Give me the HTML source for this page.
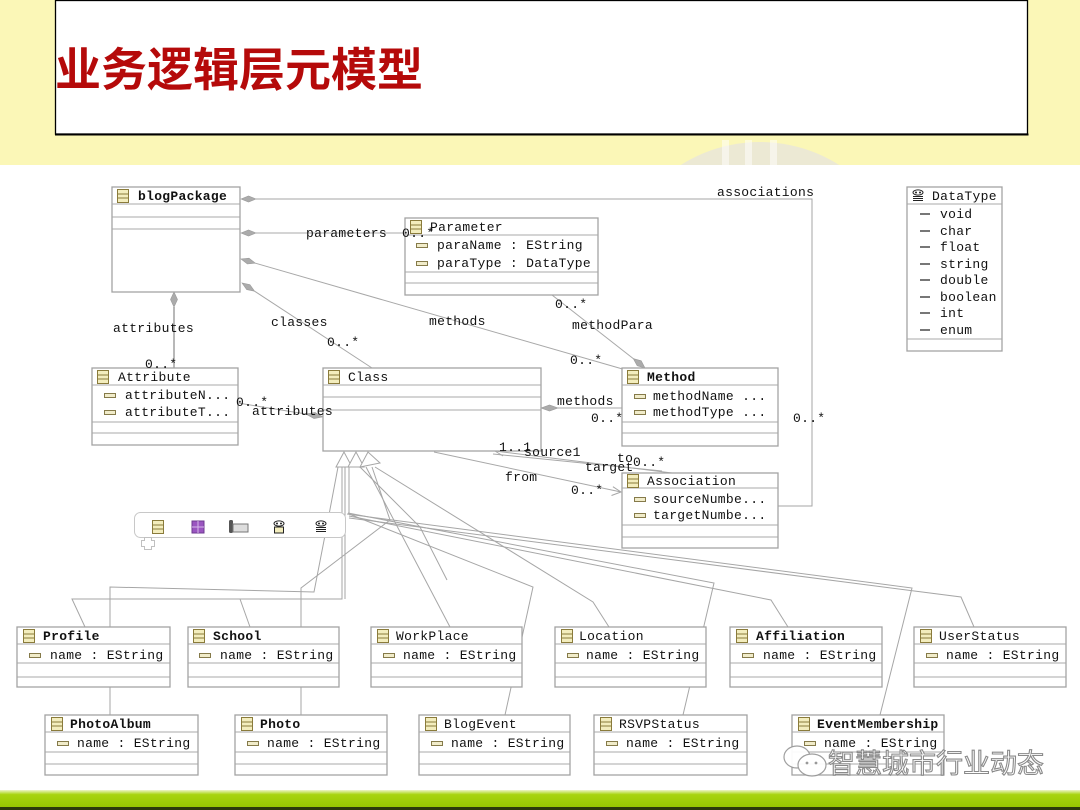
<!DOCTYPE html>
<html><head><meta charset="utf-8">
<style>
html,body{margin:0;padding:0;width:1080px;height:810px;overflow:hidden;background:#fff}
svg{display:block}
.t{font-family:"Liberation Mono",monospace;font-size:13px;letter-spacing:0.3px;fill:#111}
.tb{font-family:"Liberation Mono",monospace;font-size:13px;letter-spacing:0.3px;fill:#111;font-weight:bold}
.b{fill:#fff;stroke:#a3a3a3;stroke-width:1.3}
.s{stroke:#a8a8a8;stroke-width:1}
.l{stroke:#a6a6a6;stroke-width:1;fill:none}
.d{fill:#ababab;stroke:#9a9a9a;stroke-width:0.6}
</style></head><body>
<svg width="1080" height="810" viewBox="0 0 1080 810" xmlns="http://www.w3.org/2000/svg">
<defs>
<g id="ci"><rect x="0.5" y="0.5" width="11" height="13" fill="#f3edbd" stroke="#8a7b3b"/><line x1="1" y1="5" x2="11" y2="5" stroke="#8a7b3b"/><line x1="1" y1="9" x2="11" y2="9" stroke="#8a7b3b"/></g>
<g id="ai"><rect x="0.5" y="0.5" width="11" height="4" fill="#f1ecca" stroke="#857a4a"/></g>
<g id="dt"><ellipse cx="6" cy="3.5" rx="5" ry="2.6" fill="#fff" stroke="#222" stroke-width="1"/><circle cx="4" cy="3.5" r="1" fill="#222"/><circle cx="8" cy="3.5" r="1" fill="#222"/><line x1="1" y1="7.5" x2="11" y2="7.5" stroke="#222"/><line x1="1" y1="9.5" x2="11" y2="9.5" stroke="#222"/><line x1="1" y1="11.5" x2="11" y2="11.5" stroke="#222"/></g>
<linearGradient id="gb" x1="0" y1="0" x2="0" y2="1">
<stop offset="0" stop-color="#eef5c8"/><stop offset="0.25" stop-color="#a8d410"/><stop offset="1" stop-color="#96c600"/>
</linearGradient>
<clipPath id="yc"><rect x="0" y="0" width="1080" height="165"/></clipPath>
</defs>

<!-- header background -->
<rect x="0" y="0" width="1080" height="165" fill="#fbf7b7"/>
<g clip-path="url(#yc)">
<circle cx="760" cy="290" r="148" fill="#ece9d4"/>
<rect x="722" y="140" width="7" height="30" fill="#fff" opacity="0.5"/>
<rect x="745" y="140" width="7" height="30" fill="#fff" opacity="0.5"/>
<rect x="770" y="140" width="7" height="30" fill="#fff" opacity="0.5"/>
</g>
<rect x="55.5" y="0.5" width="972" height="133.5" fill="#fff" stroke="#000" stroke-width="1.3"/>
<line x1="55" y1="134.5" x2="1028.5" y2="134.5" stroke="#000" stroke-width="2"/>
<text x="55" y="86" style="font-family:'Liberation Sans','Noto Sans CJK SC',sans-serif;font-size:46px;font-weight:bold;fill:#b50a0a">业务逻辑层元模型</text>

<!-- ===== connectors ===== -->
<polyline class="l" points="256,199 812,199 812,506 778,506"/>
<polygon class="d" points="241,199 248.5,196 256,199 248.5,202"/>
<line class="s" x1="256" y1="233" x2="405" y2="233"/>
<polygon class="d" points="241,233 248.5,230 256,233 248.5,236"/>
<line class="s" x1="255.4" y1="263.2" x2="626" y2="370"/>
<polygon class="d" points="241,259 247.4,264 255.4,263.2 249,258.2"/>
<line class="s" x1="254.6" y1="291.2" x2="372" y2="368"/>
<polygon class="d" points="242,283 246.7,289.6 254.6,291.2 249.9,284.6"/>
<line class="l" x1="174" y1="307" x2="174" y2="368" style="stroke-width:1.6"/>
<polygon class="d" points="174,292 170.5,299.5 174,307 177.5,299.5"/>
<line class="s" x1="552" y1="295" x2="633.3" y2="358.6"/>
<polygon class="d" points="633.3,358.6 637.2,365.8 645,368 641.2,360.8"/>
<line class="s" x1="238" y1="403" x2="306" y2="414"/>
<polygon class="d" points="306.1,414.1 315,412.5 322.9,416.9 314,418.5"/>
<line class="s" x1="558" y1="408" x2="622" y2="408"/>
<polygon class="d" points="541,408 549.5,405 558,408 549.5,411"/>
<line class="s" x1="434" y1="452" x2="621" y2="492"/>
<polyline class="l" points="611.5,495.5 621,492 612.9,486.7"/>
<line class="s" x1="495" y1="451" x2="672" y2="473"/>
<line class="s" x1="493" y1="454" x2="662" y2="471"/>
<polyline class="l" points="504,449 495,451 503,456"/>

<!-- generalization lines -->
<polyline class="l" points="342,467 342,599 72,599 85,627"/>
<polyline class="l" points="240,599 250,627"/>
<polyline class="l" points="345,467 345,599"/>
<polyline class="l" points="338,467 328,520 314,592 110,587 110,715"/>
<polyline class="l" points="372,467 390,520 301,588 301,715"/>
<polyline class="l" points="366,467 450,627"/>
<polyline class="l" points="349,467 349,514 533,587 505,715"/>
<polyline class="l" points="375,467 593,602 609,627"/>
<polyline class="l" points="348,513 714,583 683,715"/>
<polyline class="l" points="349,516 771,600 788,627"/>
<polyline class="l" points="347,514 912,588 880,715"/>
<polyline class="l" points="349,518 961,597 974,627"/>
<polyline class="l" points="360,467 420,527 447,580"/>
<polygon points="344,452 336,467 352,467" fill="#fff" stroke="#a6a6a6"/>
<polygon points="356,452 348,467 364,467" fill="#fff" stroke="#a6a6a6"/>
<polygon points="368,452 360,467 380,463" fill="#fff" stroke="#a6a6a6"/>

<!-- ===== boxes ===== -->
<rect class="b" x="112" y="187" width="128" height="105"/>
<line class="s" x1="112" y1="204" x2="240" y2="204"/>
<line class="s" x1="112" y1="217" x2="240" y2="217"/>
<line class="s" x1="112" y1="229" x2="240" y2="229"/>
<use href="#ci" x="117" y="189"/>
<text class="tb" x="138" y="200">blogPackage</text>

<rect class="b" x="405" y="218" width="193" height="77"/>
<line class="s" x1="405" y1="235" x2="598" y2="235"/>
<line class="s" x1="405" y1="272" x2="598" y2="272"/>
<line class="s" x1="405" y1="283" x2="598" y2="283"/>
<use href="#ci" x="410" y="220"/>
<text class="t" x="430" y="231">Parameter</text>
<use href="#ai" x="416" y="243"/>
<use href="#ai" x="416" y="261"/>
<text class="t" x="437" y="249">paraName : EString</text>
<text class="t" x="437" y="267">paraType : DataType</text>

<rect class="b" x="907" y="187" width="95" height="164"/>
<line class="s" x1="907" y1="204" x2="1002" y2="204"/>
<line class="s" x1="907" y1="339" x2="1002" y2="339"/>
<use href="#dt" x="912" y="189"/>
<text class="t" x="932" y="200">DataType</text>
<g fill="#777">
<rect x="920" y="213" width="10" height="2"/><rect x="920" y="230" width="10" height="2"/>
<rect x="920" y="246" width="10" height="2"/><rect x="920" y="263" width="10" height="2"/>
<rect x="920" y="279" width="10" height="2"/><rect x="920" y="296" width="10" height="2"/>
<rect x="920" y="312" width="10" height="2"/><rect x="920" y="329" width="10" height="2"/>
</g>
<text class="t" x="940" y="218">void</text>
<text class="t" x="940" y="235">char</text>
<text class="t" x="940" y="251">float</text>
<text class="t" x="940" y="268">string</text>
<text class="t" x="940" y="284">double</text>
<text class="t" x="940" y="301">boolean</text>
<text class="t" x="940" y="317">int</text>
<text class="t" x="940" y="334">enum</text>

<rect class="b" x="92" y="368" width="146" height="77"/>
<line class="s" x1="92" y1="385" x2="238" y2="385"/>
<line class="s" x1="92" y1="422" x2="238" y2="422"/>
<line class="s" x1="92" y1="433" x2="238" y2="433"/>
<use href="#ci" x="97" y="370"/>
<text class="t" x="118" y="381">Attribute</text>
<use href="#ai" x="104" y="393"/>
<use href="#ai" x="104" y="410"/>
<text class="t" x="125" y="399">attributeN...</text>
<text class="t" x="125" y="416">attributeT...</text>

<rect class="b" x="323" y="368" width="218" height="83"/>
<line class="s" x1="323" y1="385" x2="541" y2="385"/>
<line class="s" x1="323" y1="397" x2="541" y2="397"/>
<line class="s" x1="323" y1="410" x2="541" y2="410"/>
<use href="#ci" x="328" y="370"/>
<text class="t" x="348" y="381">Class</text>

<rect class="b" x="622" y="368" width="156" height="78"/>
<line class="s" x1="622" y1="385" x2="778" y2="385"/>
<line class="s" x1="622" y1="422" x2="778" y2="422"/>
<line class="s" x1="622" y1="433" x2="778" y2="433"/>
<use href="#ci" x="627" y="370"/>
<text class="tb" x="647" y="381">Method</text>
<use href="#ai" x="634" y="394"/>
<use href="#ai" x="634" y="410"/>
<text class="t" x="653" y="400">methodName ...</text>
<text class="t" x="653" y="416">methodType ...</text>

<rect class="b" x="622" y="473" width="156" height="75"/>
<line class="s" x1="622" y1="488" x2="778" y2="488"/>
<line class="s" x1="622" y1="525" x2="778" y2="525"/>
<line class="s" x1="622" y1="537" x2="778" y2="537"/>
<use href="#ci" x="627" y="474"/>
<text class="t" x="647" y="485">Association</text>
<use href="#ai" x="634" y="497"/>
<use href="#ai" x="634" y="513"/>
<text class="t" x="653" y="503">sourceNumbe...</text>
<text class="t" x="653" y="519">targetNumbe...</text>

<!-- toolbar -->
<rect x="134.5" y="512.5" width="211" height="25" rx="6" fill="#fff" stroke="#c8c8c8"/>
<use href="#ci" x="152" y="520"/>
<rect x="192" y="521" width="12" height="12" fill="#9a55c0" stroke="#6e3a90"/>
<line x1="192" y1="527" x2="204" y2="527" stroke="#d6b8ea"/><line x1="198" y1="521" x2="198" y2="533" stroke="#d6b8ea"/>
<rect x="229" y="520" width="4" height="13" rx="1.5" fill="#555"/>
<rect x="233" y="524" width="15" height="8" fill="#ddd" stroke="#777"/>
<g transform="translate(273,520)"><ellipse cx="6" cy="3.5" rx="5" ry="2.6" fill="#fff" stroke="#222"/><circle cx="4" cy="3.5" r="1" fill="#222"/><circle cx="8" cy="3.5" r="1" fill="#222"/><rect x="1.5" y="7" width="9" height="6" fill="#f3edbd" stroke="#222"/></g>
<use href="#dt" x="315" y="520"/>
<path d="M144.5,537.5 h7 v3 h3 v6 h-3 v3 h-7 v-3 h-3 v-6 h3 z" fill="#fff" stroke="#c0c0c0"/>

<!-- Row 1 -->
<g>
<rect class="b" x="17" y="627" width="153" height="60"/>
<line class="s" x1="17" y1="644" x2="170" y2="644"/><line class="s" x1="17" y1="663" x2="170" y2="663"/><line class="s" x1="17" y1="677" x2="170" y2="677"/>
<use href="#ci" x="23" y="629"/><text class="tb" x="43" y="640">Profile</text>
<use href="#ai" x="29" y="653"/><text class="t" x="50" y="659">name : EString</text>

<rect class="b" x="188" y="627" width="151" height="60"/>
<line class="s" x1="188" y1="644" x2="339" y2="644"/><line class="s" x1="188" y1="663" x2="339" y2="663"/><line class="s" x1="188" y1="677" x2="339" y2="677"/>
<use href="#ci" x="193" y="629"/><text class="tb" x="213" y="640">School</text>
<use href="#ai" x="199" y="653"/><text class="t" x="220" y="659">name : EString</text>

<rect class="b" x="371" y="627" width="151" height="60"/>
<line class="s" x1="371" y1="644" x2="522" y2="644"/><line class="s" x1="371" y1="663" x2="522" y2="663"/><line class="s" x1="371" y1="677" x2="522" y2="677"/>
<use href="#ci" x="377" y="629"/><text class="t" x="396" y="640">WorkPlace</text>
<use href="#ai" x="383" y="653"/><text class="t" x="403" y="659">name : EString</text>

<rect class="b" x="555" y="627" width="151" height="60"/>
<line class="s" x1="555" y1="644" x2="706" y2="644"/><line class="s" x1="555" y1="663" x2="706" y2="663"/><line class="s" x1="555" y1="677" x2="706" y2="677"/>
<use href="#ci" x="561" y="629"/><text class="t" x="579" y="640">Location</text>
<use href="#ai" x="567" y="653"/><text class="t" x="586" y="659">name : EString</text>

<rect class="b" x="730" y="627" width="152" height="60"/>
<line class="s" x1="730" y1="644" x2="882" y2="644"/><line class="s" x1="730" y1="663" x2="882" y2="663"/><line class="s" x1="730" y1="677" x2="882" y2="677"/>
<use href="#ci" x="736" y="629"/><text class="tb" x="756" y="640">Affiliation</text>
<use href="#ai" x="742" y="653"/><text class="t" x="763" y="659">name : EString</text>

<rect class="b" x="914" y="627" width="152" height="60"/>
<line class="s" x1="914" y1="644" x2="1066" y2="644"/><line class="s" x1="914" y1="663" x2="1066" y2="663"/><line class="s" x1="914" y1="677" x2="1066" y2="677"/>
<use href="#ci" x="920" y="629"/><text class="t" x="939" y="640">UserStatus</text>
<use href="#ai" x="926" y="653"/><text class="t" x="946" y="659">name : EString</text>
</g>

<!-- Row 2 -->
<g>
<rect class="b" x="45" y="715" width="153" height="60"/>
<line class="s" x1="45" y1="732" x2="198" y2="732"/><line class="s" x1="45" y1="752" x2="198" y2="752"/><line class="s" x1="45" y1="764" x2="198" y2="764"/>
<use href="#ci" x="51" y="717"/><text class="tb" x="70" y="728">PhotoAlbum</text>
<use href="#ai" x="57" y="741"/><text class="t" x="77" y="747">name : EString</text>

<rect class="b" x="235" y="715" width="152" height="60"/>
<line class="s" x1="235" y1="732" x2="387" y2="732"/><line class="s" x1="235" y1="752" x2="387" y2="752"/><line class="s" x1="235" y1="764" x2="387" y2="764"/>
<use href="#ci" x="241" y="717"/><text class="tb" x="260" y="728">Photo</text>
<use href="#ai" x="247" y="741"/><text class="t" x="267" y="747">name : EString</text>

<rect class="b" x="419" y="715" width="151" height="60"/>
<line class="s" x1="419" y1="732" x2="570" y2="732"/><line class="s" x1="419" y1="752" x2="570" y2="752"/><line class="s" x1="419" y1="764" x2="570" y2="764"/>
<use href="#ci" x="425" y="717"/><text class="t" x="444" y="728">BlogEvent</text>
<use href="#ai" x="431" y="741"/><text class="t" x="451" y="747">name : EString</text>

<rect class="b" x="594" y="715" width="153" height="60"/>
<line class="s" x1="594" y1="732" x2="747" y2="732"/><line class="s" x1="594" y1="752" x2="747" y2="752"/><line class="s" x1="594" y1="764" x2="747" y2="764"/>
<use href="#ci" x="600" y="717"/><text class="t" x="619" y="728">RSVPStatus</text>
<use href="#ai" x="606" y="741"/><text class="t" x="626" y="747">name : EString</text>

<rect class="b" x="792" y="715" width="152" height="60"/>
<line class="s" x1="792" y1="732" x2="944" y2="732"/><line class="s" x1="792" y1="752" x2="944" y2="752"/><line class="s" x1="792" y1="764" x2="944" y2="764"/>
<use href="#ci" x="798" y="717"/><text class="tb" x="817" y="728">EventMembership</text>
<use href="#ai" x="804" y="741"/><text class="t" x="824" y="747">name : EString</text>
</g>

<!-- ===== connector labels (on top) ===== -->
<text class="t" x="717" y="196">associations</text>
<text class="t" x="793" y="422">0..*</text>
<text class="t" x="306" y="237">parameters</text>
<text class="t" x="402" y="237">0..*</text>
<text class="t" x="429" y="325">methods</text>
<text class="t" x="570" y="364">0..*</text>
<text class="t" x="271" y="326">classes</text>
<text class="t" x="327" y="346">0..*</text>
<text class="t" x="113" y="332">attributes</text>
<text class="t" x="145" y="368">0..*</text>
<text class="t" x="555" y="308">0..*</text>
<text class="t" x="572" y="329">methodPara</text>
<text class="t" x="236" y="406">0..*</text>
<text class="t" x="252" y="415">attributes</text>
<text class="t" x="557" y="405">methods</text>
<text class="t" x="591" y="422">0..*</text>
<text class="t" x="499" y="451">1..1</text>
<text class="t" x="524" y="456">source1</text>
<text class="t" x="617" y="462">to</text>
<text class="t" x="585" y="471">target</text>
<text class="t" x="633" y="466">0..*</text>
<text class="t" x="505" y="481">from</text>
<text class="t" x="571" y="494">0..*</text>

<!-- watermark -->
<g fill="#fff" stroke="#9a9a9a" stroke-width="1.2" opacity="0.95">
<ellipse cx="797" cy="757" rx="13" ry="11"/>
<ellipse cx="812" cy="765" rx="14" ry="11"/>
</g>
<circle cx="807" cy="763" r="1.4" fill="#999"/><circle cx="816" cy="763" r="1.4" fill="#999"/>
<text x="828" y="773" style="font-family:'Liberation Sans','Noto Sans CJK SC',sans-serif;font-size:27px;fill:#fff;stroke:#8a8a8a;stroke-width:1.1">智慧城市行业动态</text>

<!-- bottom green bar -->
<rect x="0" y="790" width="1080" height="18" fill="url(#gb)"/>
<rect x="0" y="807" width="1080" height="3" fill="#2c3a0c"/>
</svg>
</body></html>
